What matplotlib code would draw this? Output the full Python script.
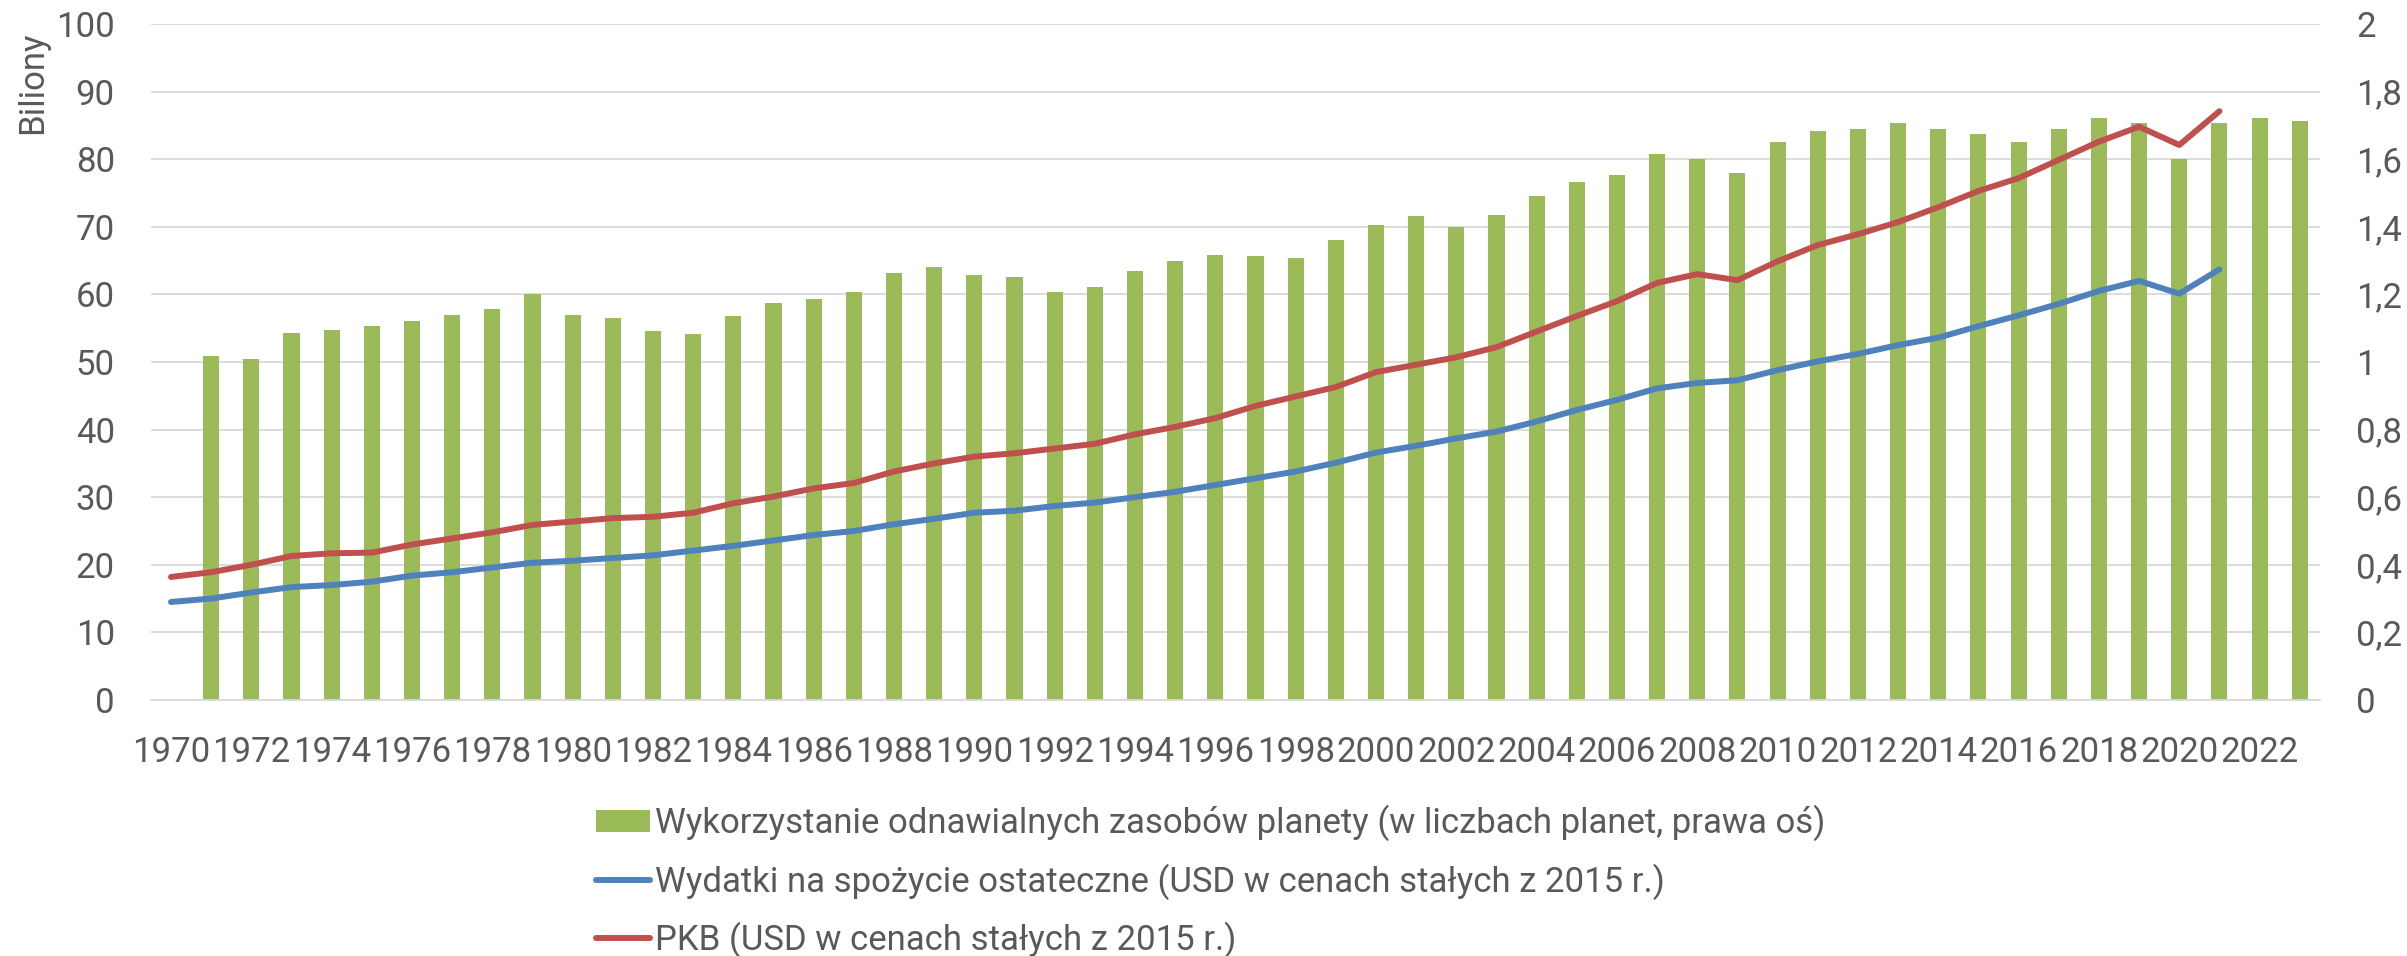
import numpy as np
import matplotlib
matplotlib.use("Agg")
from matplotlib import pyplot as plt
from matplotlib.patches import Patch
from matplotlib.lines import Line2D

plt.rcParams['font.family'] = ['Roboto', 'DejaVu Sans']

years = list(range(1970, 2024))

# ecological footprint in planets (right axis), no value for 1970
planets = [np.nan,
           1.018, 1.010, 1.086, 1.096, 1.106, 1.122, 1.140, 1.158, 1.200, 1.140,
           1.130, 1.092, 1.082, 1.136, 1.176, 1.186, 1.208, 1.262, 1.280, 1.258,
           1.250, 1.206, 1.222, 1.268, 1.298, 1.318, 1.314, 1.308, 1.362, 1.404,
           1.432, 1.398, 1.436, 1.490, 1.534, 1.552, 1.614, 1.600, 1.560, 1.652,
           1.682, 1.690, 1.706, 1.690, 1.674, 1.652, 1.690, 1.722, 1.706, 1.600,
           1.706, 1.722, 1.712]

# final consumption expenditure, trillions USD (2015 prices)
consumption = [14.5, 15.0, 15.9, 16.7, 17.0, 17.5, 18.4, 18.9, 19.6, 20.3,
               20.6, 21.0, 21.4, 22.1, 22.8, 23.6, 24.4, 25.0, 26.0, 26.8,
               27.7, 28.0, 28.7, 29.2, 30.0, 30.8, 31.8, 32.8, 33.8, 35.1,
               36.6, 37.6, 38.7, 39.7, 41.2, 42.9, 44.4, 46.1, 46.9, 47.3,
               48.8, 50.1, 51.2, 52.5, 53.6, 55.3, 56.9, 58.6, 60.5, 62.0,
               60.1, 63.7]

# GDP, trillions USD (2015 prices)
gdp = [18.2, 18.9, 20.0, 21.3, 21.7, 21.8, 23.0, 23.9, 24.8, 25.9,
       26.4, 26.9, 27.1, 27.7, 29.1, 30.1, 31.3, 32.1, 33.8, 35.0,
       36.0, 36.5, 37.2, 37.9, 39.3, 40.4, 41.7, 43.5, 44.9, 46.3,
       48.5, 49.6, 50.7, 52.2, 54.5, 56.8, 59.0, 61.7, 63.0, 62.1,
       64.9, 67.3, 68.9, 70.7, 72.9, 75.3, 77.2, 79.9, 82.6, 84.8,
       82.1, 87.1]

labels = ['Wykorzystanie odnawialnych zasobów planety (w liczbach planet, prawa oś)',
          'Wydatki na spożycie ostateczne (USD w cenach stałych z 2015 r.)',
          'PKB (USD w cenach stałych z 2015 r.)']

green = '#9BBB59'
blue = '#4F81BD'
red = '#C0504D'
grid_c = '#D9D9D9'
txt_c = '#595959'
fs = 25

x = np.arange(len(years))

fig = plt.figure(figsize=(24.07, 9.56), dpi=100)
ax = fig.add_axes([0.0627, 0.2678, 0.9011, 0.7071])
ax2 = ax.twinx()

# bars (right axis) sit under the lines
ax2.bar(x, planets, width=0.4, color=green, zorder=2)
ax2.set_ylim(0, 2)
ax2.set_yticks(np.arange(0, 2.01, 0.2))
ax2.set_yticklabels([('%g' % v).replace('.', ',') for v in np.arange(0, 2.01, 0.2)])
ax2.grid(axis='y', color=grid_c, lw=1.3, zorder=0)
ax2.set_axisbelow(True)

ax.plot(x[:len(consumption)], consumption, color=blue, lw=4.3, solid_capstyle='round')
ax.plot(x[:len(gdp)], gdp, color=red, lw=4.3, solid_capstyle='round')
ax.set_ylim(0, 100)
ax.set_yticks(range(0, 101, 10))
ax.set_xlim(-0.5, len(years) - 0.5)
ax.set_xticks(x[::2])
ax.set_xticklabels([str(y) for y in years[::2]])

ax.set_zorder(ax2.get_zorder() + 1)
ax.patch.set_visible(False)

for a in (ax, ax2):
    for s in a.spines.values():
        s.set_visible(False)
    a.tick_params(length=0, labelsize=fs, colors=txt_c)
ax2.spines['bottom'].set_visible(True)
ax2.spines['bottom'].set_color(grid_c)
ax2.spines['bottom'].set_linewidth(1.3)
ax.tick_params(axis='y', pad=26)
ax2.tick_params(axis='y', pad=26)
ax.tick_params(axis='x', pad=26)

fig.text(16 / 2407, 1 - 32 / 956, 'Biliony', rotation=90, ha='left', va='top',
         fontsize=fs, color=txt_c)

handles = [Patch(facecolor=green, edgecolor='none'),
           Line2D([], [], color=blue, lw=4.3, solid_capstyle='round'),
           Line2D([], [], color=red, lw=4.3, solid_capstyle='round')]
fig.legend(handles, labels, loc='upper center', bbox_to_anchor=(0.503, 0.1763),
           ncol=1, frameon=False, fontsize=fs, labelcolor=txt_c,
           handlelength=1.55, handleheight=0.6, handletextpad=0.15,
           labelspacing=0.63, borderpad=0)

fig.savefig('out.png', dpi=100)
